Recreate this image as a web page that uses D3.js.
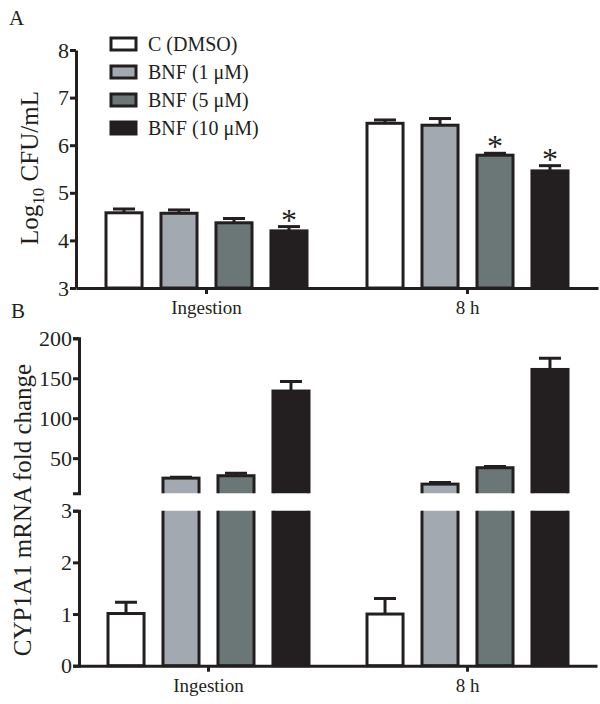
<!DOCTYPE html>
<html>
<head>
<meta charset="utf-8">
<script src="https://cdn.jsdelivr.net/npm/d3@7"></script>
<style>
  body { margin: 0; background: #fff; }
  text { font-family: "Liberation Serif", "DejaVu Serif", serif; fill: #231f20; }
</style>
</head>
<body>
<div class="chart"></div>
<script>
// categories and series
var groups = ["Ingestion", "8 h"];
var series = ["C (DMSO)", "BNF (1 \u03bcM)", "BNF (5 \u03bcM)", "BNF (10 \u03bcM)"];
var colors = ["#ffffff", "#a3a9b1", "#6b7676", "#231f20"];

// panel A: log10 CFU/mL, one row per group
var cfuMean = [[4.58, 4.57, 4.37, 4.20], [6.46, 6.42, 5.79, 5.46]];
var cfuErr = [[0.08, 0.07, 0.09, 0.09], [0.07, 0.14, 0.04, 0.11]];
var cfuStar = [[false, false, false, true], [false, false, true, true]];
var cfuTicks = [3, 4, 5, 6, 7, 8];

// panel B: CYP1A1 fold change, broken axis
var mrnaMean = [[1.01, 25, 28, 134], [1.0, 17.5, 38, 161]];
var mrnaErr = [[0.22, 1.2, 3, 12], [0.30, 2, 1.5, 14]];
var lowTicks = [0, 1, 2, 3];
var highTicks = [50, 100, 150, 200];

var W = 600, H = 704, ink = "#231f20";
var fmt = d3.format("d");

var svg = d3.select(".chart")
    .append("svg")
    .attr("width", W)
    .attr("height", H);

// helper: inner scale for bars within one group
function innerScale(xOuter, g) {
    var c = xOuter(g) + xOuter.bandwidth() / 2;
    return d3.scaleBand().domain(series).range([c - 102, c + 102]).paddingInner(0.29);
}

// ---------- Panel A ----------
var xA = d3.scaleBand().domain(groups).range([76, 598]);
var yA = d3.scaleLinear().domain([3, 8]).range([288, 50]);

var gA = svg.append("g");

groups.forEach(function (g, gi) {
    var xi = innerScale(xA, g);
    series.forEach(function (s, si) {
        var v = cfuMean[gi][si], e = cfuErr[gi][si];
        var bx = xi(s) + 1.5, bw = xi.bandwidth() - 3;
        var cx = xi(s) + xi.bandwidth() / 2;
        // error bar (up only)
        gA.append("line").attr("x1", cx).attr("x2", cx)
            .attr("y1", yA(v)).attr("y2", yA(v + e))
            .attr("stroke", ink).attr("stroke-width", 3);
        gA.append("line").attr("x1", cx - 11).attr("x2", cx + 11)
            .attr("y1", yA(v + e)).attr("y2", yA(v + e))
            .attr("stroke", ink).attr("stroke-width", 3);
        gA.append("rect")
            .attr("x", bx).attr("width", bw)
            .attr("y", yA(v)).attr("height", yA(3) - yA(v))
            .attr("fill", colors[si]).attr("stroke", ink).attr("stroke-width", 3);
        if (cfuStar[gi][si]) {
            gA.append("text").attr("x", cx).attr("y", yA(v + e) + 4)
                .attr("text-anchor", "middle").style("font-size", "32px").text("*");
        }
    });
});

// axes A
var axA = gA.append("g")
    .attr("transform", "translate(76,0)")
    .call(d3.axisLeft(yA).tickValues(cfuTicks).tickFormat(fmt).tickSize(6).tickSizeOuter(0).tickPadding(1));
var axAx = gA.append("g")
    .attr("transform", "translate(0,288)")
    .call(d3.axisBottom(xA).tickSize(6).tickSizeOuter(0).tickPadding(7));
[axA, axAx].forEach(function (a) {
    a.select(".domain").attr("stroke", ink).attr("stroke-width", 3);
    a.selectAll(".tick line").attr("stroke", ink).attr("stroke-width", 3);
    a.selectAll(".tick text").style("font-size", "19px").attr("fill", ink)
        .style("font-family", "'Liberation Serif', serif");
});
axA.selectAll(".tick text").style("font-size", "22px");

// legend
var leg = gA.append("g");
series.forEach(function (s, i) {
    var ly = 44 + i * 28;
    leg.append("rect").attr("x", 111).attr("y", ly - 6).attr("width", 25).attr("height", 12)
        .attr("fill", colors[i]).attr("stroke", ink).attr("stroke-width", 3);
    leg.append("text").attr("x", 148).attr("y", ly + 6.5).style("font-size", "20px").text(s);
});

// y label A
gA.append("text")
    .attr("transform", "translate(38,168) rotate(-90)")
    .attr("text-anchor", "middle")
    .style("font-size", "25px")
    .call(function (t) {
        t.append("tspan").text("Log");
        t.append("tspan").attr("dy", 6).style("font-size", "17px").text("10");
        t.append("tspan").attr("dy", -6).text(" CFU/mL");
    });

svg.append("text").attr("x", 9).attr("y", 25).style("font-size", "21px").text("A");
svg.append("text").attr("x", 11).attr("y", 318).style("font-size", "21px").text("B");

// ---------- Panel B ----------
var xB = d3.scaleBand().domain(groups).range([79, 597]);
var yLow = d3.scaleLinear().domain([0, 3]).range([665.7, 510.7]);
var yHigh = d3.scaleLinear().domain([6, 200]).range([493.3, 338.3]);

var defs = svg.append("defs");
defs.append("clipPath").attr("id", "clipLow").append("rect")
    .attr("x", 0).attr("y", yLow(3)).attr("width", W).attr("height", yLow(0) - yLow(3) + 5);
defs.append("clipPath").attr("id", "clipHigh").append("rect")
    .attr("x", 0).attr("y", 300).attr("width", W).attr("height", yHigh(6) - 300);

var gB = svg.append("g");
var lowG = gB.append("g").attr("clip-path", "url(#clipLow)");
var highG = gB.append("g").attr("clip-path", "url(#clipHigh)");

function drawErr(parent, y, cx, v, e) {
    parent.append("line").attr("x1", cx).attr("x2", cx)
        .attr("y1", y(v)).attr("y2", y(v + e))
        .attr("stroke", ink).attr("stroke-width", 3);
    parent.append("line").attr("x1", cx - 11).attr("x2", cx + 11)
        .attr("y1", y(v + e)).attr("y2", y(v + e))
        .attr("stroke", ink).attr("stroke-width", 3);
}

groups.forEach(function (g, gi) {
    var xi = innerScale(xB, g);
    series.forEach(function (s, si) {
        var v = mrnaMean[gi][si], e = mrnaErr[gi][si];
        var bx = xi(s) + 1.5, bw = xi.bandwidth() - 3;
        var cx = xi(s) + xi.bandwidth() / 2;
        if (v <= 3) {
            drawErr(lowG, yLow, cx, v, e);
            lowG.append("rect").attr("x", bx).attr("width", bw)
                .attr("y", yLow(v)).attr("height", yLow(0) - yLow(v))
                .attr("fill", colors[si]).attr("stroke", ink).attr("stroke-width", 3);
        } else {
            lowG.append("rect").attr("x", bx).attr("width", bw)
                .attr("y", yLow(3) - 10).attr("height", yLow(0) - yLow(3) + 10)
                .attr("fill", colors[si]).attr("stroke", ink).attr("stroke-width", 3);
            drawErr(highG, yHigh, cx, v, e);
            highG.append("rect").attr("x", bx).attr("width", bw)
                .attr("y", yHigh(v)).attr("height", yHigh(6) - yHigh(v) + 10)
                .attr("fill", colors[si]).attr("stroke", ink).attr("stroke-width", 3);
        }
    });
});

var axLow = gB.append("g").attr("transform", "translate(79,0)")
    .call(d3.axisLeft(yLow).tickValues(lowTicks).tickFormat(fmt).tickSize(6).tickSizeOuter(6).tickPadding(1));
var axHigh = gB.append("g").attr("transform", "translate(79,0)")
    .call(d3.axisLeft(yHigh).tickValues(highTicks).tickFormat(fmt).tickSize(6).tickSizeOuter(6).tickPadding(1));
var axBx = gB.append("g").attr("transform", "translate(0," + yLow(0) + ")")
    .call(d3.axisBottom(xB).tickSize(6).tickSizeOuter(0).tickPadding(7));
[axLow, axHigh, axBx].forEach(function (a) {
    a.select(".domain").attr("stroke", ink).attr("stroke-width", 3);
    a.selectAll(".tick line").attr("stroke", ink).attr("stroke-width", 3);
    a.selectAll(".tick text").style("font-size", "22px").attr("fill", ink)
        .style("font-family", "'Liberation Serif', serif");
});
axBx.selectAll(".tick text").style("font-size", "19px");

gB.append("text")
    .attr("transform", "translate(31,510) rotate(-90)")
    .attr("text-anchor", "middle")
    .style("font-size", "25px")
    .text("CYP1A1 mRNA fold change");
</script>
</body>
</html>
